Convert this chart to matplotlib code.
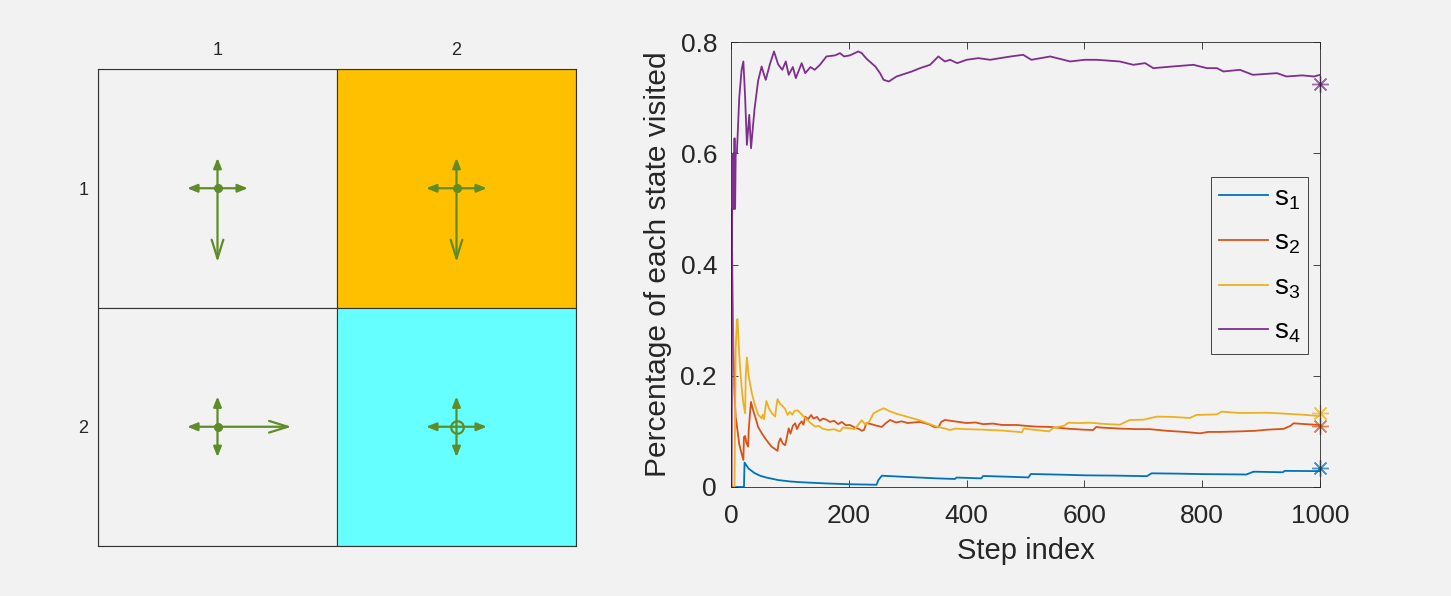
import matplotlib.pyplot as plt
from matplotlib.patches import Rectangle

# ---- grid world (2x2) ----
cell_colors = [['#f2f2f2', '#ffc000'],
               ['#f2f2f2', '#66ffff']]
# greedy action of each state s1..s4 (row major); the other moves get short arrows
greedy = ['down', 'down', 'right', 'stay']

# ---- fraction of visits (step index, value) ----
s1_steps = [1, 22, 23, 26, 30, 35, 40, 50, 60, 80, 100, 120, 160, 200, 247, 250, 256,
            300, 350, 380, 383, 425, 428, 470, 505, 509, 560, 600, 650, 706, 714,
            760, 800, 875, 887, 937, 940, 1000]
s1_vals = [0, 0, 0.044, 0.039, 0.033, 0.029, 0.025, 0.020, 0.017, 0.0125, 0.010, 0.0085,
           0.0065, 0.005, 0.004, 0.012, 0.0203, 0.018, 0.0155, 0.0144, 0.017, 0.0155,
           0.0198, 0.0185, 0.0172, 0.0234, 0.0222, 0.021, 0.0205, 0.0195, 0.0246,
           0.024, 0.0232, 0.0225, 0.0275, 0.0265, 0.029, 0.0285]

s2_steps = [1, 3, 4, 6, 8, 10, 14, 18, 21, 22, 24, 26, 29, 30, 32, 34, 37, 41, 46, 52,
            58, 64, 69, 79, 81, 84, 88, 92, 95, 98, 101, 105, 109, 112, 116, 120, 123,
            126, 131, 136, 140, 146, 151, 156, 162, 168, 175, 182, 188, 195, 202, 210,
            218, 222, 226, 230, 238, 248, 256, 262, 270, 280, 290, 300, 310, 321, 335,
            345, 352, 357, 363, 380, 400, 415, 428, 445, 460, 485, 500, 519, 542, 570,
            600, 615, 620, 626, 660, 690, 711, 740, 770, 796, 810, 830, 864, 890, 910,
            938, 950, 955, 975, 1000]
s2_vals = [0.5, 0.333, 0.25, 0.167, 0.125, 0.11, 0.077, 0.06, 0.0485, 0.09, 0.0917, 0.08,
           0.0725, 0.1, 0.13, 0.153, 0.14, 0.1265, 0.108, 0.097, 0.0875, 0.079, 0.0725,
           0.065, 0.08, 0.0875, 0.078, 0.075, 0.09, 0.1055, 0.096, 0.11, 0.1145, 0.104,
           0.113, 0.118, 0.112, 0.1265, 0.122, 0.1295, 0.123, 0.126, 0.119, 0.123, 0.121,
           0.117, 0.119, 0.113, 0.117, 0.111, 0.1115, 0.107, 0.104, 0.101, 0.103, 0.115,
           0.113, 0.11, 0.108, 0.114, 0.1205, 0.116, 0.118, 0.115, 0.116, 0.117, 0.113,
           0.108, 0.1073, 0.117, 0.1205, 0.118, 0.115, 0.116, 0.113, 0.114, 0.1115,
           0.1115, 0.11, 0.1085, 0.108, 0.105, 0.103, 0.1025, 0.108, 0.107, 0.105, 0.104,
           0.104, 0.101, 0.099, 0.0965, 0.099, 0.099, 0.1, 0.101, 0.103, 0.1045, 0.11,
           0.1145, 0.113, 0.1115]

s3_steps = [1, 6, 7, 8, 10, 11, 13, 15, 18, 21, 24, 25, 27, 30, 35, 40, 46, 52, 54, 56,
            60, 65, 70, 75, 77, 79, 83, 88, 92, 96, 100, 104, 108, 113, 125, 135, 143,
            149, 155, 165, 175, 185, 190, 202, 210, 222, 228, 235, 242, 250, 259, 270,
            280, 287, 300, 320, 349, 360, 372, 381, 400, 430, 460, 494, 497, 540, 547,
            565, 573, 590, 610, 626, 640, 660, 677, 700, 723, 750, 779, 790, 825, 833,
            864, 910, 938, 970, 1000]
s3_vals = [0, 0, 0.143, 0.25, 0.3, 0.302, 0.26, 0.22, 0.18, 0.15, 0.1325, 0.2, 0.233,
           0.2, 0.17, 0.15, 0.13, 0.1235, 0.13, 0.122, 0.1546, 0.14, 0.132, 0.1265, 0.145,
           0.158, 0.15, 0.145, 0.14, 0.1295, 0.135, 0.13, 0.137, 0.138, 0.125, 0.115,
           0.1085, 0.11, 0.105, 0.1025, 0.104, 0.1, 0.107, 0.1055, 0.104, 0.12, 0.112,
           0.118, 0.1325, 0.137, 0.1415, 0.136, 0.132, 0.13, 0.126, 0.12, 0.1085, 0.106,
           0.1025, 0.105, 0.104, 0.103, 0.1015, 0.0985, 0.105, 0.1, 0.106, 0.11, 0.1156,
           0.115, 0.1156, 0.114, 0.113, 0.112, 0.1205, 0.121, 0.1265, 0.126, 0.124,
           0.1295, 0.1305, 0.1355, 0.133, 0.1335, 0.132, 0.13, 0.1275]

s4_steps = [1, 2, 3, 4, 5, 6, 7, 8, 10, 14, 18, 21, 24, 27, 31, 34, 40, 46, 52, 55, 59,
            66, 73, 80, 87, 93, 98, 105, 110, 120, 126, 135, 142, 151, 162, 177, 185,
            192, 202, 216, 222, 230, 245, 253, 259, 268, 281, 307, 321, 338, 352, 363,
            372, 384, 400, 420, 440, 457, 475, 496, 510, 542, 576, 600, 621, 660, 683,
            703, 717, 750, 785, 808, 825, 836, 864, 886, 927, 943, 970, 990, 1000]
s4_vals = [0, 0.5, 0.5, 0.6, 0.5, 0.627, 0.5, 0.6, 0.6, 0.7, 0.75, 0.765, 0.7, 0.615,
           0.669, 0.609, 0.68, 0.73, 0.756, 0.745, 0.732, 0.76, 0.783, 0.76, 0.75, 0.765,
           0.741, 0.755, 0.735, 0.762, 0.744, 0.755, 0.75, 0.759, 0.774, 0.776, 0.78,
           0.774, 0.776, 0.783, 0.78, 0.77, 0.756, 0.744, 0.732, 0.729, 0.738, 0.747,
           0.753, 0.759, 0.774, 0.765, 0.768, 0.762, 0.768, 0.771, 0.768, 0.771, 0.774,
           0.777, 0.768, 0.774, 0.765, 0.768, 0.768, 0.765, 0.759, 0.762, 0.753, 0.756,
           0.759, 0.753, 0.753, 0.747, 0.75, 0.741, 0.744, 0.738, 0.74, 0.738, 0.741]

# stationary distribution, drawn as stars at the last step
stationary = [0.035, 0.109, 0.133, 0.725]
n_steps = 1000

colors = ['#0072BD', '#D95319', '#EDB120', '#7E2F8E']
labels = [r'$\mathregular{s_1}$', r'$\mathregular{s_2}$',
          r'$\mathregular{s_3}$', r'$\mathregular{s_4}$']
arrow_color = '#5e8c28'
bg = '#f2f2f2'
axis_color = '#262626'

plt.rcParams['font.family'] = ['Liberation Sans', 'DejaVu Sans']
plt.rcParams['mathtext.fontset'] = 'custom'
plt.rcParams['mathtext.rm'] = 'Liberation Sans'

fig = plt.figure(figsize=(14.51, 5.96), dpi=100, facecolor=bg)

# ---------------- left: grid world ----------------
ax1 = fig.add_axes([98 / 1451, 50 / 596, 478 / 1451, 477 / 596])
ax1.set_facecolor(bg)
for r in range(2):
    for c in range(2):
        ax1.add_patch(Rectangle((c + 0.5, r + 0.5), 1, 1, facecolor=cell_colors[r][c],
                                edgecolor='#333333', lw=0.8))
ax1.set_xlim(0.5, 2.5)
ax1.set_ylim(2.5, 0.5)
ax1.set_xticks([1, 2])
ax1.set_yticks([1, 2])
ax1.xaxis.tick_top()
ax1.tick_params(length=0, labelsize=13, colors=axis_color, pad=7)
for sp in ax1.spines.values():
    sp.set_color('#333333')
    sp.set_linewidth(0.8)

short_len = 0.127
long_len = 0.31
moves = {'up': (0, -1), 'down': (0, 1), 'left': (-1, 0), 'right': (1, 0)}
for k, act in enumerate(greedy):
    r, c = divmod(k, 2)
    cx, cy = c + 1, r + 1
    for name, (dx, dy) in moves.items():
        if name == act:
            style = '->,head_length=1.35,head_width=0.42'
            length = long_len
        else:
            style = '-|>,head_length=0.6,head_width=0.24'
            length = short_len
        ax1.annotate('', xy=(cx + dx * length, cy + dy * length), xytext=(cx, cy),
                     arrowprops=dict(arrowstyle=style, color=arrow_color, lw=1.6,
                                     shrinkA=0, shrinkB=0, mutation_scale=10))
    if act == 'stay':
        ax1.plot(cx, cy, 'o', ms=9, mfc='none', mec=arrow_color, mew=1.6)
    else:
        ax1.plot(cx, cy, 'o', ms=5.5, color=arrow_color)

# ---------------- right: visit fractions ----------------
ax2 = fig.add_axes([731 / 1451, 109 / 596, 589 / 1451, 445 / 596])
ax2.set_facecolor(bg)
series = [(s1_steps, s1_vals), (s2_steps, s2_vals), (s3_steps, s3_vals), (s4_steps, s4_vals)]
for (xs, ys), col, lab in zip(series, colors, labels):
    ax2.plot(xs, ys, color=col, lw=1.3, label=lab)
for val, col in zip(stationary, colors):
    ax2.plot(n_steps, val, marker=(8, 2, 0), ms=12, color=col, mew=1.0, alpha=0.7,
             clip_on=False)
    ax2.plot(n_steps, val, '.', ms=4, color=col, clip_on=False)

ax2.set_xlim(0, 1000)
ax2.set_ylim(0, 0.8)
ax2.set_xticks([0, 200, 400, 600, 800, 1000])
ax2.set_yticks([0, 0.2, 0.4, 0.6, 0.8])
ax2.set_yticklabels(['0', '0.2', '0.4', '0.6', '0.8'])
ax2.tick_params(direction='in', length=5, width=0.6, top=True, right=True,
                labelsize=19, colors=axis_color)
ax2.tick_params(axis='x', pad=12)
ax2.tick_params(axis='y', pad=10)
for sp in ax2.spines.values():
    sp.set_color(axis_color)
    sp.set_linewidth(0.6)
ax2.set_xlabel('Step index', fontsize=21, color=axis_color, labelpad=7)
ax2.set_ylabel('Percentage of each state visited', fontsize=21.5, color=axis_color,
               labelpad=6)

leg = ax2.legend(loc='upper left', bbox_to_anchor=(0.815, 0.697), borderaxespad=0,
                 fontsize=20, frameon=True, fancybox=False, handlelength=1.75,
                 labelspacing=0.65, edgecolor=axis_color, facecolor=bg,
                 handletextpad=0.2, borderpad=0.3)
leg.get_frame().set_linewidth(0.6)
leg.get_frame().set_alpha(1)

fig.savefig('out.png', dpi=100, facecolor=bg)
